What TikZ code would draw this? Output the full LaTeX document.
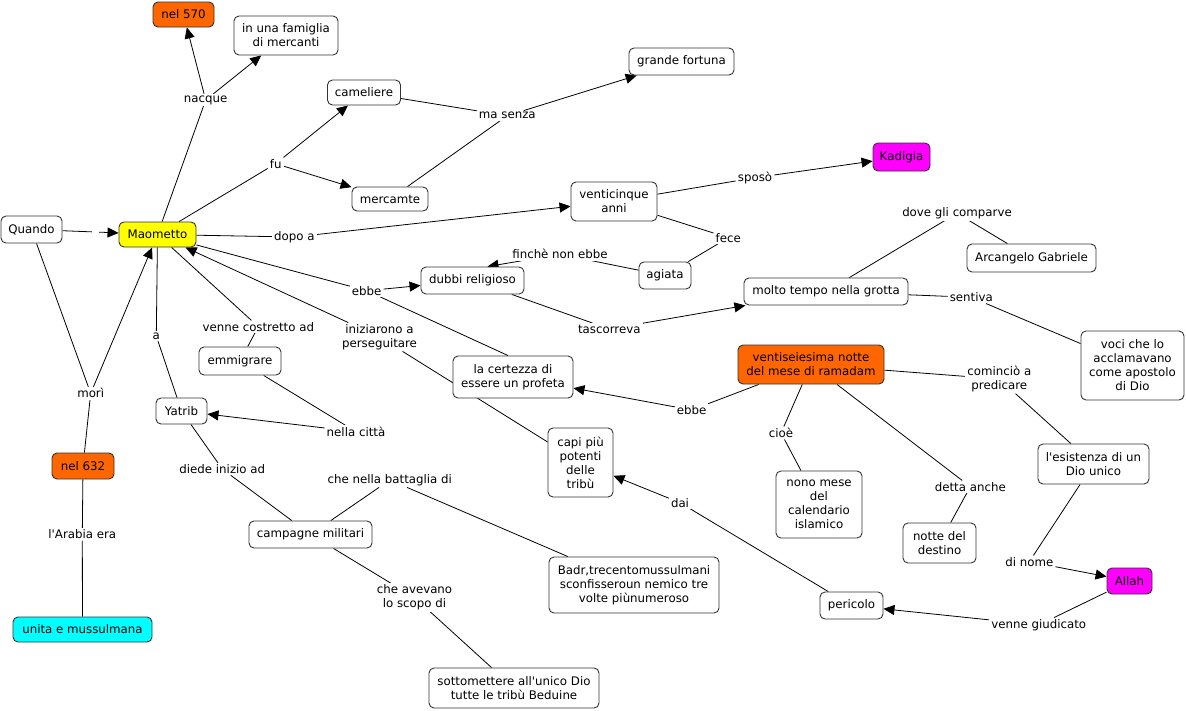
\documentclass[tikz,border=0pt]{standalone}
\usepackage{fontspec}
\setmainfont{DejaVu Sans}
\usetikzlibrary{arrows.meta,backgrounds}
\definecolor{corange}{HTML}{FF6600}
\definecolor{cyellow}{HTML}{FFFF00}
\definecolor{ccyan}{HTML}{00FFFF}
\definecolor{cmag}{HTML}{FF00FF}
\begin{document}
\begin{tikzpicture}[x=1pt,y=-1pt,
  every node/.style={font=\fontsize{11.8}{14}\selectfont},
  box/.style={draw=black!80,line width=0.9pt,rounded corners=5pt,fill=white,inner sep=0pt,align=center},
  lbl/.style={fill=white,inner xsep=2pt,inner ysep=1.5pt,align=center},
  link/.style={line width=0.8pt,black},
  arr/.style={link,-{Triangle[length=11pt,width=10pt]}}]
\useasboundingbox (0,0) rectangle (1186,710);
% concept boxes
\node[box,fill=corange,minimum width=61pt,minimum height=25pt] (n570) at (183.5,14.5) {nel 570};
\node[box,minimum width=104pt,minimum height=39pt] (fam) at (286,35.5) {in una famiglia\\di mercanti};
\node[box,minimum width=73pt,minimum height=25pt] (cam) at (364,92.5) {cameliere};
\node[box,minimum width=76pt,minimum height=24pt] (merc) at (390,199) {mercamte};
\node[box,minimum width=105pt,minimum height=27pt] (grande) at (681.5,61.5) {grande fortuna};
\node[box,minimum width=61pt,minimum height=27pt] (quando) at (31.5,229.5) {Quando};
\node[box,fill=cyellow,minimum width=77pt,minimum height=25pt] (maom) at (157.5,234.5) {Maometto};
\node[box,minimum width=86pt,minimum height=39pt] (venti) at (614,201.5) {venticinque\\anni};
\node[box,fill=cmag,minimum width=57pt,minimum height=28pt] (kad) at (901.5,157) {Kadigia};
\node[box,minimum width=52pt,minimum height=27pt] (agiata) at (665,275.5) {agiata};
\node[box,minimum width=103pt,minimum height=27pt] (dubbi) at (472.5,280.5) {dubbi religioso};
\node[box,minimum width=164pt,minimum height=27pt] (grotta) at (826,291.5) {molto tempo nella grotta};
\node[box,minimum width=129pt,minimum height=28pt] (arc) at (1031.5,258) {Arcangelo Gabriele};
\node[box,minimum width=103pt,minimum height=69pt] (voci) at (1132.5,365.5) {voci che lo\\acclamavano\\come apostolo\\di Dio};
\node[box,minimum width=82pt,minimum height=28pt] (emm) at (240,361) {emmigrare};
\node[box,minimum width=51pt,minimum height=26pt] (yatrib) at (181.5,411) {Yatrib};
\node[box,fill=corange,minimum width=62pt,minimum height=26pt] (n632) at (83,466) {nel 632};
\node[box,fill=ccyan,minimum width=139pt,minimum height=25pt] (unita) at (82.5,629.5) {unita e mussulmana};
\node[box,minimum width=123pt,minimum height=27pt] (camp) at (310.5,534.5) {campagne militari};
\node[box,minimum width=120pt,minimum height=42pt] (cert) at (513,377) {la certezza di\\essere un profeta};
\node[box,minimum width=65pt,minimum height=69pt] (capi) at (580.5,462.5) {capi più\\potenti\\delle\\tribù};
\node[box,minimum width=170pt,minimum height=56pt] (badr) at (634,585) {Badr,trecentomussulmani\\sconfisseroun nemico tre\\volte piùnumeroso};
\node[box,minimum width=170pt,minimum height=40pt] (sott) at (514,688) {sottomettere all\textquotesingle unico Dio\\tutte le tribù Beduine};
\node[box,fill=corange,minimum width=146pt,minimum height=39pt] (vent26) at (811,364.5) {ventiseiesima notte\\del mese di ramadam};
\node[box,minimum width=86pt,minimum height=67pt] (nono) at (819,504.5) {nono mese\\del\\calendario\\islamico};
\node[box,minimum width=73pt,minimum height=40pt] (notte) at (939.5,543) {notte del\\destino};
\node[box,minimum width=111pt,minimum height=40pt] (esist) at (1093.5,464) {l\textquotesingle esistenza di un\\Dio unico};
\node[box,fill=cmag,minimum width=45pt,minimum height=26pt] (allah) at (1129.5,581) {Allah};
\node[box,minimum width=63pt,minimum height=27pt] (peric) at (851.5,605.5) {pericolo};
% linking phrases
\node[lbl] (lnacque) at (205.7,100) {nacque};
\node[lbl] (lfu) at (275.7,163.7) {fu};
\node[lbl] (lmasenza) at (507.3,115.7) {ma senza};
\node[lbl] (ldopo) at (294.3,237) {dopo a};
\node[lbl] (lsposo) at (755,177.7) {sposò};
\node[lbl] (lfece) at (728.3,237.7) {fece};
\node[lbl] (lfinche) at (560,254.3) {finchè non ebbe};
\node[lbl] (lebbe1) at (366.7,290.7) {ebbe};
\node[lbl] (ltasc) at (609.3,329) {tascorreva};
\node[lbl] (ldove) at (957,213.3) {dove gli comparve};
\node[lbl] (lsentiva) at (971.3,297.3) {sentiva};
\node[lbl] (lvenne) at (258.3,326.7) {venne costretto ad};
\node[lbl] (la) at (156.3,336) {a};
\node[lbl] (linizi) at (379.5,337) {iniziarono a\\perseguitare};
\node[lbl] (lnella) at (356,431.7) {nella città};
\node[lbl] (lmori) at (90.7,393.3) {morì};
\node[lbl] (ldiede) at (222.3,469) {diede inizio ad};
\node[lbl] (larabia) at (82.3,534.3) {l\textquotesingle Arabia era};
\node[lbl] (lbatt) at (389.8,480) {che nella battaglia di};
\node[lbl] (lscopo) at (414.5,597.5) {che avevano\\lo scopo di};
\node[lbl] (lebbe2) at (691.7,410) {ebbe};
\node[lbl] (ldai) at (680,502.7) {dai};
\node[lbl] (lcioe) at (781,433) {cioè};
\node[lbl] (lcomin) at (999.3,379) {cominciò a\\predicare};
\node[lbl] (ldetta) at (970.3,486.7) {detta anche};
\node[lbl] (ldinome) at (1029.3,561.7) {di nome};
\node[lbl] (lgiud) at (1038.7,625) {venne giudicato};
\node[inner sep=0pt,minimum width=7pt,minimum height=3pt] (lq) at (95.5,232) {};
% connectors
\begin{pgfonlayer}{background}
\draw[link] (maom) -- (lnacque); \draw[arr] (lnacque) -- (n570); \draw[arr] (lnacque) -- (fam);
\draw[link] (maom) -- (lfu); \draw[arr] (lfu) -- (cam); \draw[arr] (lfu) -- (merc);
\draw[link] (cam) -- (lmasenza); \draw[link] (merc) -- (lmasenza); \draw[arr] (lmasenza) -- (grande);
\draw[link] (maom) -- (ldopo); \draw[arr] (ldopo) -- (venti);
\draw[link] (venti) -- (lsposo); \draw[arr] (lsposo) -- (kad);
\draw[link] (venti) -- (lfece); \draw[link] (lfece) -- (agiata);
\draw[link] (agiata) -- (lfinche); \draw[arr] (lfinche) -- ([xshift=15pt]dubbi.north);
\draw[link] (maom) -- (lebbe1); \draw[arr] (lebbe1) -- (dubbi); \draw[link] (lebbe1) -- ([xshift=-5pt]cert.north);
\draw[link] (dubbi) -- (ltasc); \draw[arr] (ltasc) -- (grotta);
\draw[link] (grotta) -- (ldove); \draw[link] (ldove) -- (arc);
\draw[link] (grotta) -- (lsentiva); \draw[link] (lsentiva) -- (voci);
\draw[link] (maom) -- (lvenne); \draw[link] (lvenne) -- (emm);
\draw[link] (emm) -- (lnella); \draw[arr] (lnella) -- (yatrib);
\draw[link] (maom) -- (la); \draw[link] (la) -- (yatrib);
\draw[link] (capi) -- (linizi); \draw[arr] (linizi) -- (maom);
\draw[link] (quando) -- (lmori); \draw[link] (n632) -- (lmori); \draw[arr] (lmori) -- (maom);
\draw[link] (quando) -- (lq); \draw[arr] (lq) -- (maom);
\draw[link] (n632) -- (larabia); \draw[link] (larabia) -- (unita);
\draw[link] (yatrib) -- (ldiede); \draw[link] (ldiede) -- (camp);
\draw[link] (camp) -- (lbatt); \draw[link] (lbatt) -- (badr);
\draw[link] (camp) -- (lscopo); \draw[link] (lscopo) -- (sott);
\draw[link] (vent26) -- (lebbe2); \draw[arr] (lebbe2) -- (cert);
\draw[link] (vent26) -- (lcioe); \draw[link] (lcioe) -- (nono);
\draw[link] (vent26) -- (ldetta); \draw[link] (ldetta) -- (notte);
\draw[link] (vent26) -- (lcomin); \draw[link] (lcomin) -- (esist);
\draw[link] (esist) -- (ldinome); \draw[arr] (ldinome) -- (allah);
\draw[link] (allah) -- (lgiud); \draw[arr] (lgiud) -- (peric);
\draw[link] (peric) -- (ldai); \draw[arr] (ldai) -- (capi);
\end{pgfonlayer}
\end{tikzpicture}
\end{document}
